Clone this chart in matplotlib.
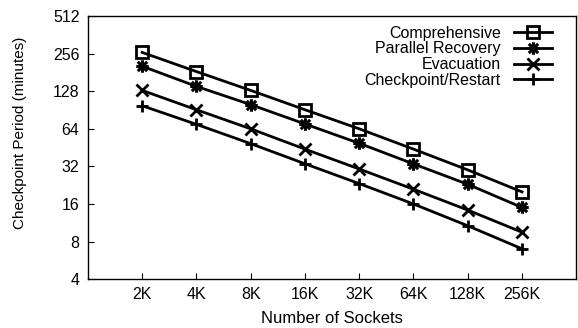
import matplotlib
matplotlib.use('Agg')
import matplotlib.pyplot as plt
from matplotlib.path import Path
import numpy as np

plt.rcParams['font.family'] = ['Liberation Sans', 'DejaVu Sans']

# Data
sockets = ['2K', '4K', '8K', '16K', '32K', '64K', '128K', '256K']
comprehensive = [262, 184, 130, 91, 64, 44, 30, 20]
parallel_recovery = [203, 140, 100, 70, 49, 33.5, 23, 15]
evacuation = [130, 91, 64, 44, 30.5, 21, 14.3, 9.5]
checkpoint_restart = [98, 69.5, 48.7, 33.6, 23.3, 16, 10.7, 7.0]

# gnuplot-like asterisk: a plus and a cross drawn on top of each other
d = 0.75
star = Path([(-1, 0), (1, 0), (0, -1), (0, 1), (-d, -d), (d, d), (-d, d), (d, -d)],
            [Path.MOVETO, Path.LINETO] * 4)

fig = plt.figure(figsize=(5.78, 3.28), dpi=100)
ax = fig.add_axes([0.152, 0.149, 0.845, 0.802])

x = np.arange(1, len(sockets) + 1)
lw = 2.0
ax.plot(x, comprehensive, color='black', lw=lw, marker='s', markersize=8,
        markerfacecolor='none', markeredgewidth=2, label='Comprehensive')
ax.plot(x, parallel_recovery, color='black', lw=lw, marker=star, markersize=9,
        markerfacecolor='none', markeredgewidth=2.2, label='Parallel Recovery')
ax.plot(x, evacuation, color='black', lw=lw, marker='x', markersize=8,
        markeredgewidth=2, label='Evacuation')
ax.plot(x, checkpoint_restart, color='black', lw=lw, marker='+', markersize=9,
        markeredgewidth=2, label='Checkpoint/Restart')

ax.set_yscale('log', base=2)
ax.set_ylim(4, 512)
yt = [4, 8, 16, 32, 64, 128, 256, 512]
ax.set_yticks(yt)
ax.set_yticklabels([str(v) for v in yt])
ax.minorticks_off()
ax.set_xlim(0, 9)
ax.set_xticks(x)
ax.set_xticklabels(sockets)

ax.tick_params(direction='in', length=4, width=0.8, labelsize=11.5, pad=6,
               top=False, right=False)
for s in ax.spines.values():
    s.set_linewidth(1.0)

ax.set_xlabel('Number of Sockets', fontsize=12, labelpad=6)
ax.set_ylabel('Checkpoint Period (minutes)', fontsize=11)
ax.yaxis.set_label_coords(-0.125, 0.555)

leg = ax.legend(loc='upper right', markerfirst=False, frameon=False, fontsize=11.5,
                handlelength=2.4, labelspacing=0.05, handletextpad=0.8,
                borderaxespad=0.2, bbox_to_anchor=(0.97, 1.0))

fig.savefig('out.png', dpi=100)
